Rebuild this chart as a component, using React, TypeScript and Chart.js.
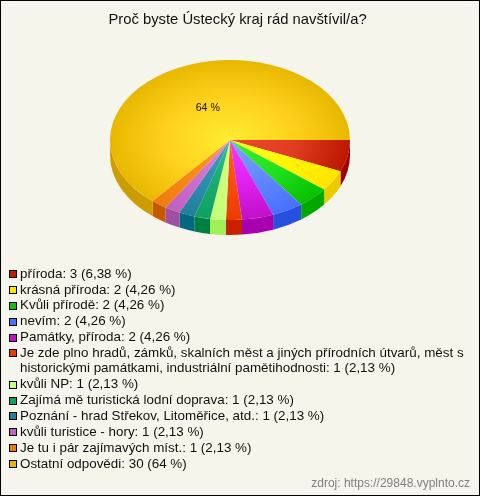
import React, { useEffect, useRef } from "react";
import { Chart, registerables } from "chart.js";

Chart.register(...registerables);

const chartTitle = "Proč byste Ústecký kraj rád navštívil/a?";
const sourceNote = "zdroj: https://29848.vyplnto.cz";
const categories = [
  "příroda", "krásná příroda", "Kvůli přírodě", "nevím", "Památky, příroda",
  "Je zde plno hradů, zámků, skalních měst a jiných přírodních útvarů, měst s\nhistorickými památkami, industriální pamětihodnosti",
  "kvůli NP", "Zajímá mě turistická lodní doprava", "Poznání - hrad Střekov, Litoměřice, atd.",
  "kvůli turistice - hory", "Je tu i pár zajímavých míst.", "Ostatní odpovědi",
];
const counts = [3, 2, 2, 2, 2, 1, 1, 1, 1, 1, 1, 30];
const shares = ["6,38 %", "4,26 %", "4,26 %", "4,26 %", "4,26 %", "2,13 %", "2,13 %", "2,13 %", "2,13 %", "2,13 %", "2,13 %", "64 %"];
const innerColors = ["#f04a30", "#ffff20", "#3cf030", "#80a4ff", "#f43cff", "#ff6420", "#d8ff88", "#30c484", "#40a4c0", "#e484e8", "#ffa024", "#ffec30"];
const midColors = ["#e03c20", "#fff408", "#20e020", "#6088ff", "#e020f0", "#f84c10", "#ccff80", "#18ac6c", "#2c8cac", "#cc70d0", "#f88818", "#ffd01c"];
const outerColors = ["#bc1800", "#ffe400", "#08c000", "#4870ff", "#c010c8", "#e83c00", "#c4ff78", "#10a060", "#20809c", "#c060c0", "#f07c10", "#e8b800"];
const sideColors = ["#a00000", "#e8cc00", "#00a800", "#2850e0", "#a800b0", "#c82000", "#a0f058", "#008040", "#006880", "#a050a4", "#c85800", "#cc9c00"];
const legendColors = ["#c01a00", "#ffe800", "#10c010", "#4870ff", "#c010c8", "#e83c00", "#c8ff80", "#10a060", "#208098", "#c060c0", "#f07c10", "#e8b400"];

const FONT = '"Liberation Sans", Arial, sans-serif';
const SQUASH = 2 / 3;
const DEPTH = 15;

const stage = {
  id: "stage",
  beforeDraw(chart: any) {
    const { ctx, width, height } = chart;
    ctx.save();
    ctx.fillStyle = "#f5f5ec";
    ctx.fillRect(0, 0, width, height);
    ctx.strokeStyle = "#000000";
    ctx.lineWidth = 1;
    ctx.strokeRect(0.5, 0.5, width - 1, height - 1);
    ctx.restore();
  },
  beforeDatasetsDraw(chart: any) {
    const { ctx } = chart;
    const arcs = chart.getDatasetMeta(0).data;
    const { x: cx, y: cy, outerRadius: rx } = arcs[0];
    const ry = rx * SQUASH;
    ctx.save();
    arcs.forEach((arc: any, i: number) => {
      const a = Math.max(arc.startAngle, 0);
      const b = Math.min(arc.endAngle, Math.PI);
      if (b <= a) return;
      ctx.beginPath();
      ctx.ellipse(cx, cy, rx, ry, 0, a, b);
      ctx.ellipse(cx, cy + DEPTH, rx, ry, 0, b, a, true);
      ctx.closePath();
      ctx.fillStyle = sideColors[i];
      ctx.fill();
    });
    ctx.restore();
    ctx.save();
    ctx.translate(cx, cy);
    ctx.scale(1, SQUASH);
    ctx.translate(-cx, -cy);
  },
  afterDatasetsDraw(chart: any) {
    const { ctx } = chart;
    ctx.restore();
    const arcs = chart.getDatasetMeta(0).data;
    const last = arcs[arcs.length - 1];
    const mid = (last.startAngle + last.endAngle) / 2;
    const dist = last.outerRadius * 0.44;
    ctx.save();
    ctx.fillStyle = "#111111";
    ctx.font = `10.67px ${FONT}`;
    ctx.textAlign = "center";
    ctx.textBaseline = "middle";
    ctx.fillText(shares[shares.length - 1], last.x + Math.cos(mid) * dist, last.y + Math.sin(mid) * dist * SQUASH);
    ctx.restore();
  },
  afterDraw(chart: any) {
    const { ctx, width, height } = chart;
    ctx.save();
    ctx.textBaseline = "middle";
    ctx.fillStyle = "#111111";
    ctx.font = `14.8px ${FONT}`;
    ctx.textAlign = "center";
    ctx.fillText(chartTitle, 237.5, 20);

    ctx.font = `13.4px ${FONT}`;
    ctx.textAlign = "left";
    let y = 274;
    categories.forEach((name, i) => {
      const top = Math.round(y) - 3;
      ctx.fillStyle = legendColors[i];
      ctx.fillRect(10, top, 6, 6);
      ctx.strokeStyle = "#000000";
      ctx.strokeRect(9.5, top - 0.5, 7, 7);
      ctx.fillStyle = "#111111";
      const lines = `${name}: ${counts[i]} (${shares[i]})`.split("\n");
      lines.forEach((line, k) => ctx.fillText(line, 20, y + k * 14.5));
      y += 15.9 + (lines.length - 1) * 15.3;
    });

    ctx.font = `12px ${FONT}`;
    ctx.fillStyle = "#808080";
    ctx.textAlign = "right";
    ctx.fillText(sourceNote, width - 10, height - 12);
    ctx.restore();
  },
};

export default function App() {
  const ref = useRef<HTMLCanvasElement>(null);
  useEffect(() => {
    document.body.style.margin = "0";
    const chart = new Chart(ref.current!, {
      type: "pie",
      data: {
        labels: categories,
        datasets: [{
          data: counts,
          borderWidth: 0,
          backgroundColor: (c: any) => {
            const area = c.chart.chartArea;
            if (!area) return outerColors[c.dataIndex];
            const cx = (area.left + area.right) / 2;
            const cy = (area.top + area.bottom) / 2;
            const r = (area.right - area.left) / 2;
            const g = c.chart.ctx.createRadialGradient(cx, cy, 0, cx, cy, r);
            g.addColorStop(0, innerColors[c.dataIndex]);
            g.addColorStop(0.55, midColors[c.dataIndex]);
            g.addColorStop(1, outerColors[c.dataIndex]);
            return g;
          },
        }],
      },
      options: {
        responsive: false,
        animation: false,
        rotation: 90,
        layout: { padding: { left: 110, right: 130, top: 20, bottom: 236 } },
        plugins: { legend: { display: false }, title: { display: false }, tooltip: { enabled: false } },
      },
      plugins: [stage],
    } as any);
    return () => chart.destroy();
  }, []);
  return <canvas ref={ref} width={480} height={496} style={{ display: "block", width: 480, height: 496 }} />;
}
